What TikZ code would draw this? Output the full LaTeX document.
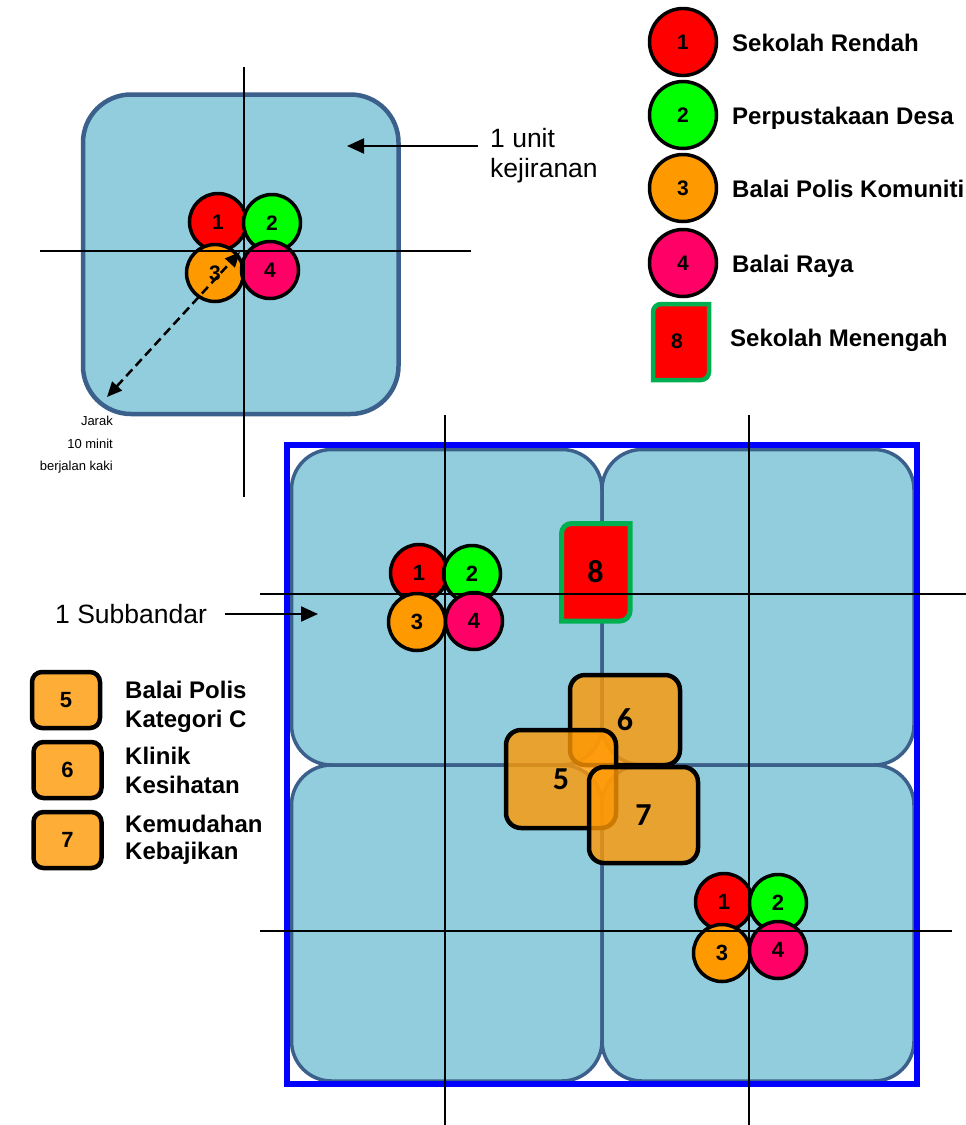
\documentclass[tikz,border=0pt]{standalone}
\usepackage{fontspec}
\setmainfont{Liberation Sans}
\newfontfamily\calfont{Carlito}
\usetikzlibrary{arrows.meta}
\definecolor{unitfill}{RGB}{146,205,221}
\definecolor{unitedge}{RGB}{60,96,140}
\definecolor{cred}{RGB}{255,0,0}
\definecolor{cgreen}{RGB}{0,255,0}
\definecolor{corange}{RGB}{255,153,0}
\definecolor{cpink}{RGB}{255,0,102}
\definecolor{sgreen}{RGB}{0,176,80}
\definecolor{oboxfill}{RGB}{254,152,4}
\definecolor{frameblue}{RGB}{0,0,255}
\newcommand\diagrect[6][]{%
  \draw[#1] (#2,#5) -- ({#2},{#3+#6}) arc (180:270:#6) -- (#4,#3) -- ({#4},{#5-#6}) arc (0:90:#6) -- cycle;}
\begin{document}
\begin{tikzpicture}[x=1pt,y=-1pt,
  unitbox/.style={draw=unitedge, line width=4.5pt, fill=unitfill, rounded corners=48pt},
  subbox/.style={draw=unitedge, line width=3.5pt, fill=unitfill, rounded corners=40pt},
  fac/.style={circle, draw=black, line width=3.5pt, minimum size=57pt, inner sep=0pt, font=\bfseries\fontsize{21}{21}\selectfont},
  bigfac/.style={fac, font=\bfseries\fontsize{22}{22}\selectfont},
  legfac/.style={fac, minimum size=67pt},
  axis/.style={draw=black, line width=1.7pt},
  obox/.style={draw=black, line width=4.5pt, fill=oboxfill, fill opacity=0.8, text opacity=1, rounded corners=15pt, inner sep=0pt, font=\calfont\bfseries\fontsize{32}{32}\selectfont},
  legobox/.style={obox, rounded corners=10pt, minimum width=68pt, minimum height=56pt, font=\bfseries\fontsize{22}{22}\selectfont},
  legtext/.style={anchor=base west, inner sep=0pt, font=\bfseries\fontsize{24}{24}\selectfont},
  plaintext/.style={anchor=base west, inner sep=0pt, font=\fontsize{26.5}{26.5}\selectfont},
  smalltext/.style={anchor=base east, inner sep=0pt, font=\fontsize{13}{13}\selectfont},
  arr/.style={-{Triangle[length=17pt,width=15pt]}, line width=2.2pt},
  darr/.style={{Triangle[length=15pt,width=13pt]}-{Triangle[length=15pt,width=13pt]}, line width=2.5pt, dash pattern=on 9pt off 5pt}
]
\useasboundingbox (0,0) rectangle (966,1125);

% ---------- top unit ----------
\draw[unitbox] (83,94.5) rectangle (398.5,414);
\node[fac, fill=cred]    (u1) at (218,222) {1};
\node[fac, fill=cgreen]  (u2) at (272,223) {2};
\node[fac, fill=corange] (u3) at (215,273) {3};
\node[fac, fill=cpink]   (u4) at (270,270) {4};
\draw[axis] (244,67) -- (244,497);
\draw[axis] (40,251) -- (471,251);
\coordinate (dA) at (107,397);
\coordinate (dB) at (240,252);
\draw[darr] (dA) -- (dB);
\coordinate (kA) at (478,146);
\coordinate (kB) at (347,146);
\draw[arr] (kA) -- (kB);
\node[plaintext] (k1) at (490,147) {1 unit};
\node[plaintext] (k2) at (490,177) {kejiranan};
\node[smalltext] (j1) at (113,425) {Jarak};
\node[smalltext] (j2) at (113,448) {10 minit};
\node[smalltext] (j3) at (113,470) {berjalan kaki};

% ---------- legend right ----------
\node[legfac, fill=cred]    (l1) at (683,42) {1};
\node[legfac, fill=cgreen]  (l2) at (683,115) {2};
\node[legfac, fill=corange] (l3) at (683,188) {3};
\node[legfac, fill=cpink]   (l4) at (683,263) {4};
\diagrect[draw=sgreen, line width=4.5pt, fill=cred]{653}{304}{709}{380}{8}
\node[font=\bfseries\fontsize{21}{21}\selectfont] (l8) at (677,341) {8};
\node[legtext] (t1) at (732,51) {Sekolah Rendah};
\node[legtext] (t2) at (732,124) {Perpustakaan Desa};
\node[legtext] (t3) at (732,197) {Balai Polis Komuniti};
\node[legtext] (t4) at (732,272) {Balai Raya};
\node[legtext] (t8) at (730,346) {Sekolah Menengah};

% ---------- subbandar ----------
\draw[subbox] (291.5,449.5) rectangle (602,765);
\draw[subbox] (602,449.5) rectangle (914,765);
\draw[subbox] (291.5,765) rectangle (602,1081);
\draw[subbox] (602,765) rectangle (914,1081);
\draw[frameblue, line width=6.5pt] (287,445) rectangle (917,1084);

\node[bigfac, fill=cred]    (a1) at (419,573) {1};
\node[bigfac, fill=cgreen]  (a2) at (472,574) {2};
\node[bigfac, fill=corange] (a3) at (417,622) {3};
\node[bigfac, fill=cpink]   (a4) at (474,621) {4};

\node[bigfac, fill=cred]    (b1) at (724,902) {1};
\node[bigfac, fill=cgreen]  (b2) at (778,903) {2};
\node[bigfac, fill=corange] (b3) at (722,953) {3};
\node[bigfac, fill=cpink]   (b4) at (778,950) {4};

\diagrect[draw=sgreen, line width=5pt, fill=cred]{561.5}{523.5}{630}{621}{10}
\node[font=\calfont\bfseries\fontsize{32}{32}\selectfont] (s8) at (595.5,572) {8};

\node[obox, minimum width=110pt, minimum height=90pt] (o6) at (625,720) {6};
\node[obox, minimum width=110pt, minimum height=98pt] (o5) at (561,779) {5};
\node[obox, minimum width=109pt, minimum height=96pt] (o7) at (643.5,815) {7};

\draw[axis] (445,415) -- (445,1125);
\draw[axis] (749,415) -- (749,1125);
\draw[axis] (260,594) -- (980,594);
\draw[axis] (260,931) -- (952,931);

\node[plaintext] (sb) at (55,623) {1 Subbandar};
\coordinate (sA) at (225,614);
\coordinate (sB) at (318,614);
\draw[arr] (sA) -- (sB);

% ---------- legend left ----------
\node[legobox] (g5) at (66,700) {5};
\node[legobox] (g6) at (67.5,770) {6};
\node[legobox] (g7) at (67.5,840) {7};
\node[legtext] (h1) at (125,698) {Balai Polis};
\node[legtext] (h2) at (125,727) {Kategori C};
\node[legtext] (h3) at (125,764) {Klinik};
\node[legtext] (h4) at (125,793) {Kesihatan};
\node[legtext] (h5) at (125,832) {Kemudahan};
\node[legtext] (h6) at (125,859) {Kebajikan};
\end{tikzpicture}
\end{document}
